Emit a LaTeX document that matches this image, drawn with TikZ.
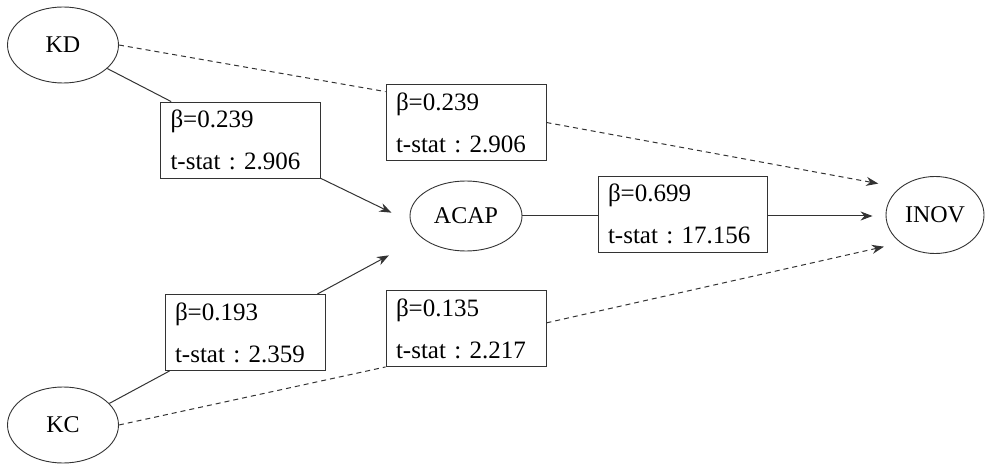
\documentclass[tikz,border=0pt]{standalone}
\usepackage{fontspec}
\setmainfont{Liberation Serif}
\usetikzlibrary{arrows.meta,shapes.geometric}

\begin{document}
\begin{tikzpicture}[x=1pt,y=-1pt,
        construct/.style={draw=black!80, line width=0.9pt, ellipse, inner sep=0pt,
            minimum width=111pt, minimum height=76pt, font=\fontsize{24}{28}\selectfont},
        coef/.style={draw=black!80, line width=0.9pt, rectangle, align=left, text width=140pt,
            inner xsep=10pt, inner ysep=3pt, minimum height=76pt,
            font=\fontsize{25}{42}\selectfont\frenchspacing},
        link/.style={line width=1pt, draw=black!80},
        weak/.style={link, dash pattern=on 5pt off 4pt},
        tip/.style={-{Stealth[length=12pt,width=9pt]}}]
        \useasboundingbox (0,0) rectangle (985,465);
        % constructs
        \node[construct] (kd) at (63,45) {KD};
        \node[construct] (kc) at (63,425) {KC};
        \node[construct, minimum width=112pt, minimum height=70pt] (acap) at (466,216) {ACAP};
        \node[construct, minimum width=98pt, minimum height=77pt] (inov) at (935,215) {INOV};
        % path coefficients
        \node[coef] (b1) at (240.5,140) {β=0.239\\t-stat : 2.906};
        \node[coef] (b2) at (466,122.5) {β=0.239\\t-stat : 2.906};
        \node[coef, text width=149pt] (b3) at (682.5,214) {β=0.699\\t-stat : 17.156};
        \node[coef] (b4) at (245,332.5) {β=0.193\\t-stat : 2.359};
        \node[coef] (b5) at (466,328.5) {β=0.135\\t-stat : 2.217};
        % KD paths
        \draw[link] (kd.-28) -- (b1.151);
        \draw[link,tip,shorten >=21pt] (b1.south east) -- (acap.186);
        \draw[weak] (kd.east) -- (b2.159);
        \draw[weak,tip,shorten >=22pt] (b2.east) -- (inov.142);
        % ACAP path
        \draw[link] (acap.east) -- (b3.west |- acap.east);
        \draw[link,tip,shorten >=13pt] (b3.east |- acap.east) -- (inov.west |- acap.east);
        % KC paths
        \draw[link] (kc.25) -- (b4.207);
        \draw[link,tip,shorten >=37pt] (b4.28) -- (acap.206);
        \draw[weak] (kc.east) -- (b5.south west);
        \draw[weak,tip,shorten >=17pt] (b5.4) -- (inov.219);
\end{tikzpicture}
\end{document}
